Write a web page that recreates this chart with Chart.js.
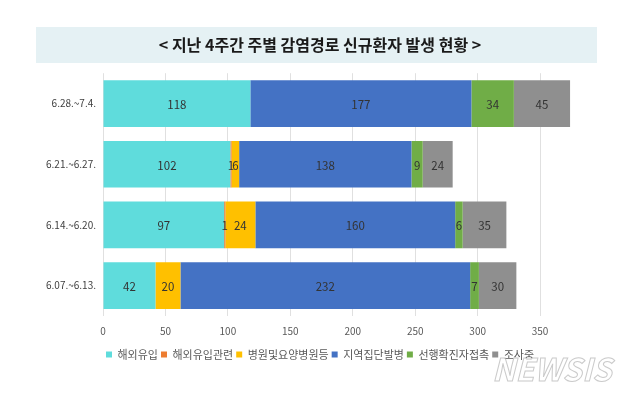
<!DOCTYPE html>
<html>
<head>
<meta charset="utf-8">
<script src="https://cdn.jsdelivr.net/npm/chart.js@4/dist/chart.umd.min.js"></script>
<style>
  html, body { margin: 0; padding: 0; background: #fff; }
  #wrap { width: 640px; height: 394px; }
</style>
</head>
<body>
<div id="wrap"><canvas id="chart" width="640" height="394"></canvas></div>
<script>
'use strict';

// Data

const weeks = ['6.28.~7.4.', '6.21.~6.27.', '6.14.~6.20.', '6.07.~6.13.'];
const seriesNames = ['해외유입', '해외유입관련', '병원및요양병원등', '지역집단발병', '선행확진자접촉', '조사중'];
const overseas = [118, 102, 97, 42];
const overseasRelated = [0, 1, 1, 0];
const hospitals = [0, 6, 24, 20];
const localClusters = [177, 138, 160, 232];
const contacts = [34, 9, 6, 7];
const investigating = [45, 24, 35, 30];
const xTicks = [0, 50, 100, 150, 200, 250, 300, 350];

const colors = ['#5fdcdc', '#ed7d31', '#ffc000', '#4472c4', '#70ad47', '#8f8f8f'];
const fontFamily = "'Noto Sans CJK KR', 'Noto Sans', sans-serif";

const allSeries = [overseas, overseasRelated, hospitals, localClusters, contacts, investigating];

// Title banner behind the title text

const bannerPlugin = {
  id: 'banner',
  beforeDraw(chart) {
    const ctx = chart.ctx;
    ctx.save();
    ctx.fillStyle = '#e5f1f4';
    ctx.fillRect(36, 27, 561, 36);
    ctx.restore();
  }
};

// Value labels in the middle of each segment

const valueLabels = {
  id: 'valueLabels',
  afterDatasetsDraw(chart) {
    const ctx = chart.ctx;
    ctx.save();
    ctx.font = '11.5px ' + fontFamily;
    ctx.fillStyle = '#333';
    ctx.textAlign = 'center';
    ctx.textBaseline = 'middle';
    chart.data.datasets.forEach((ds, i) => {
      chart.getDatasetMeta(i).data.forEach((bar, j) => {
        const v = ds.data[j];
        if (!v) return;
        const p = bar.getProps(['x', 'y', 'base'], true);
        ctx.fillText(String(v), (p.x + p.base) / 2, p.y + 1);
      });
    });
    ctx.restore();
  }
};

// NEWSIS watermark

const watermark = {
  id: 'watermark',
  afterDraw(chart) {
    const ctx = chart.ctx;
    ctx.save();
    ctx.font = 'italic bold 31px ' + fontFamily;
    ctx.textAlign = 'left';
    ctx.textBaseline = 'alphabetic';
    ctx.lineWidth = 1;
    ctx.strokeStyle = 'rgba(150,150,150,0.5)';
    ctx.fillStyle = 'rgba(255,255,255,0.75)';
    ctx.fillText('NEWSIS', 492, 381);
    ctx.strokeText('NEWSIS', 492, 381);
    ctx.restore();
  }
};

const chart = new Chart(document.getElementById('chart').getContext('2d'), {
  type: 'bar',
  data: {
    labels: weeks,
    datasets: allSeries.map((vals, i) => ({
      label: seriesNames[i],
      data: vals,
      backgroundColor: colors[i],
      borderWidth: 0,
      categoryPercentage: 1,
      barPercentage: 0.77
    }))
  },
  options: {
    indexAxis: 'y',
    responsive: false,
    animation: false,
    layout: { padding: { left: 0, right: 0, top: 0, bottom: 24 } },
    scales: {
      x: {
        stacked: true,
        min: 0,
        max: 430,
        afterBuildTicks: (scale) => {
          scale.ticks = xTicks.map(v => ({ value: v }));
        },
        grid: { color: '#e0e0e0', drawTicks: false },
        border: { display: false },
        ticks: { padding: 9, color: '#595959', font: { family: fontFamily, size: 10 } }
      },
      y: {
        stacked: true,
        afterFit: (scale) => { scale.width = 103; },
        grid: { display: false, drawTicks: false },
        border: { display: false },
        ticks: { padding: 7, color: '#404040', font: { family: fontFamily, size: 10 } }
      }
    },
    plugins: {
      title: {
        display: true,
        text: '< 지난 4주간 주별 감염경로 신규환자 발생 현황 >',
        color: '#1a1a1a',
        font: { family: fontFamily, size: 16, weight: 'bold' },
        padding: { top: 35, bottom: 19 }
      },
      legend: {
        position: 'bottom',
        fullSize: false,
        align: 'start',
        labels: {
          boxWidth: 6,
          boxHeight: 6,
          padding: 3,
          color: '#595959',
          font: { family: fontFamily, size: 11 }
        }
      },
      tooltip: { enabled: false }
    }
  },
  plugins: [bannerPlugin, valueLabels, watermark]
});
</script>
</body>
</html>
